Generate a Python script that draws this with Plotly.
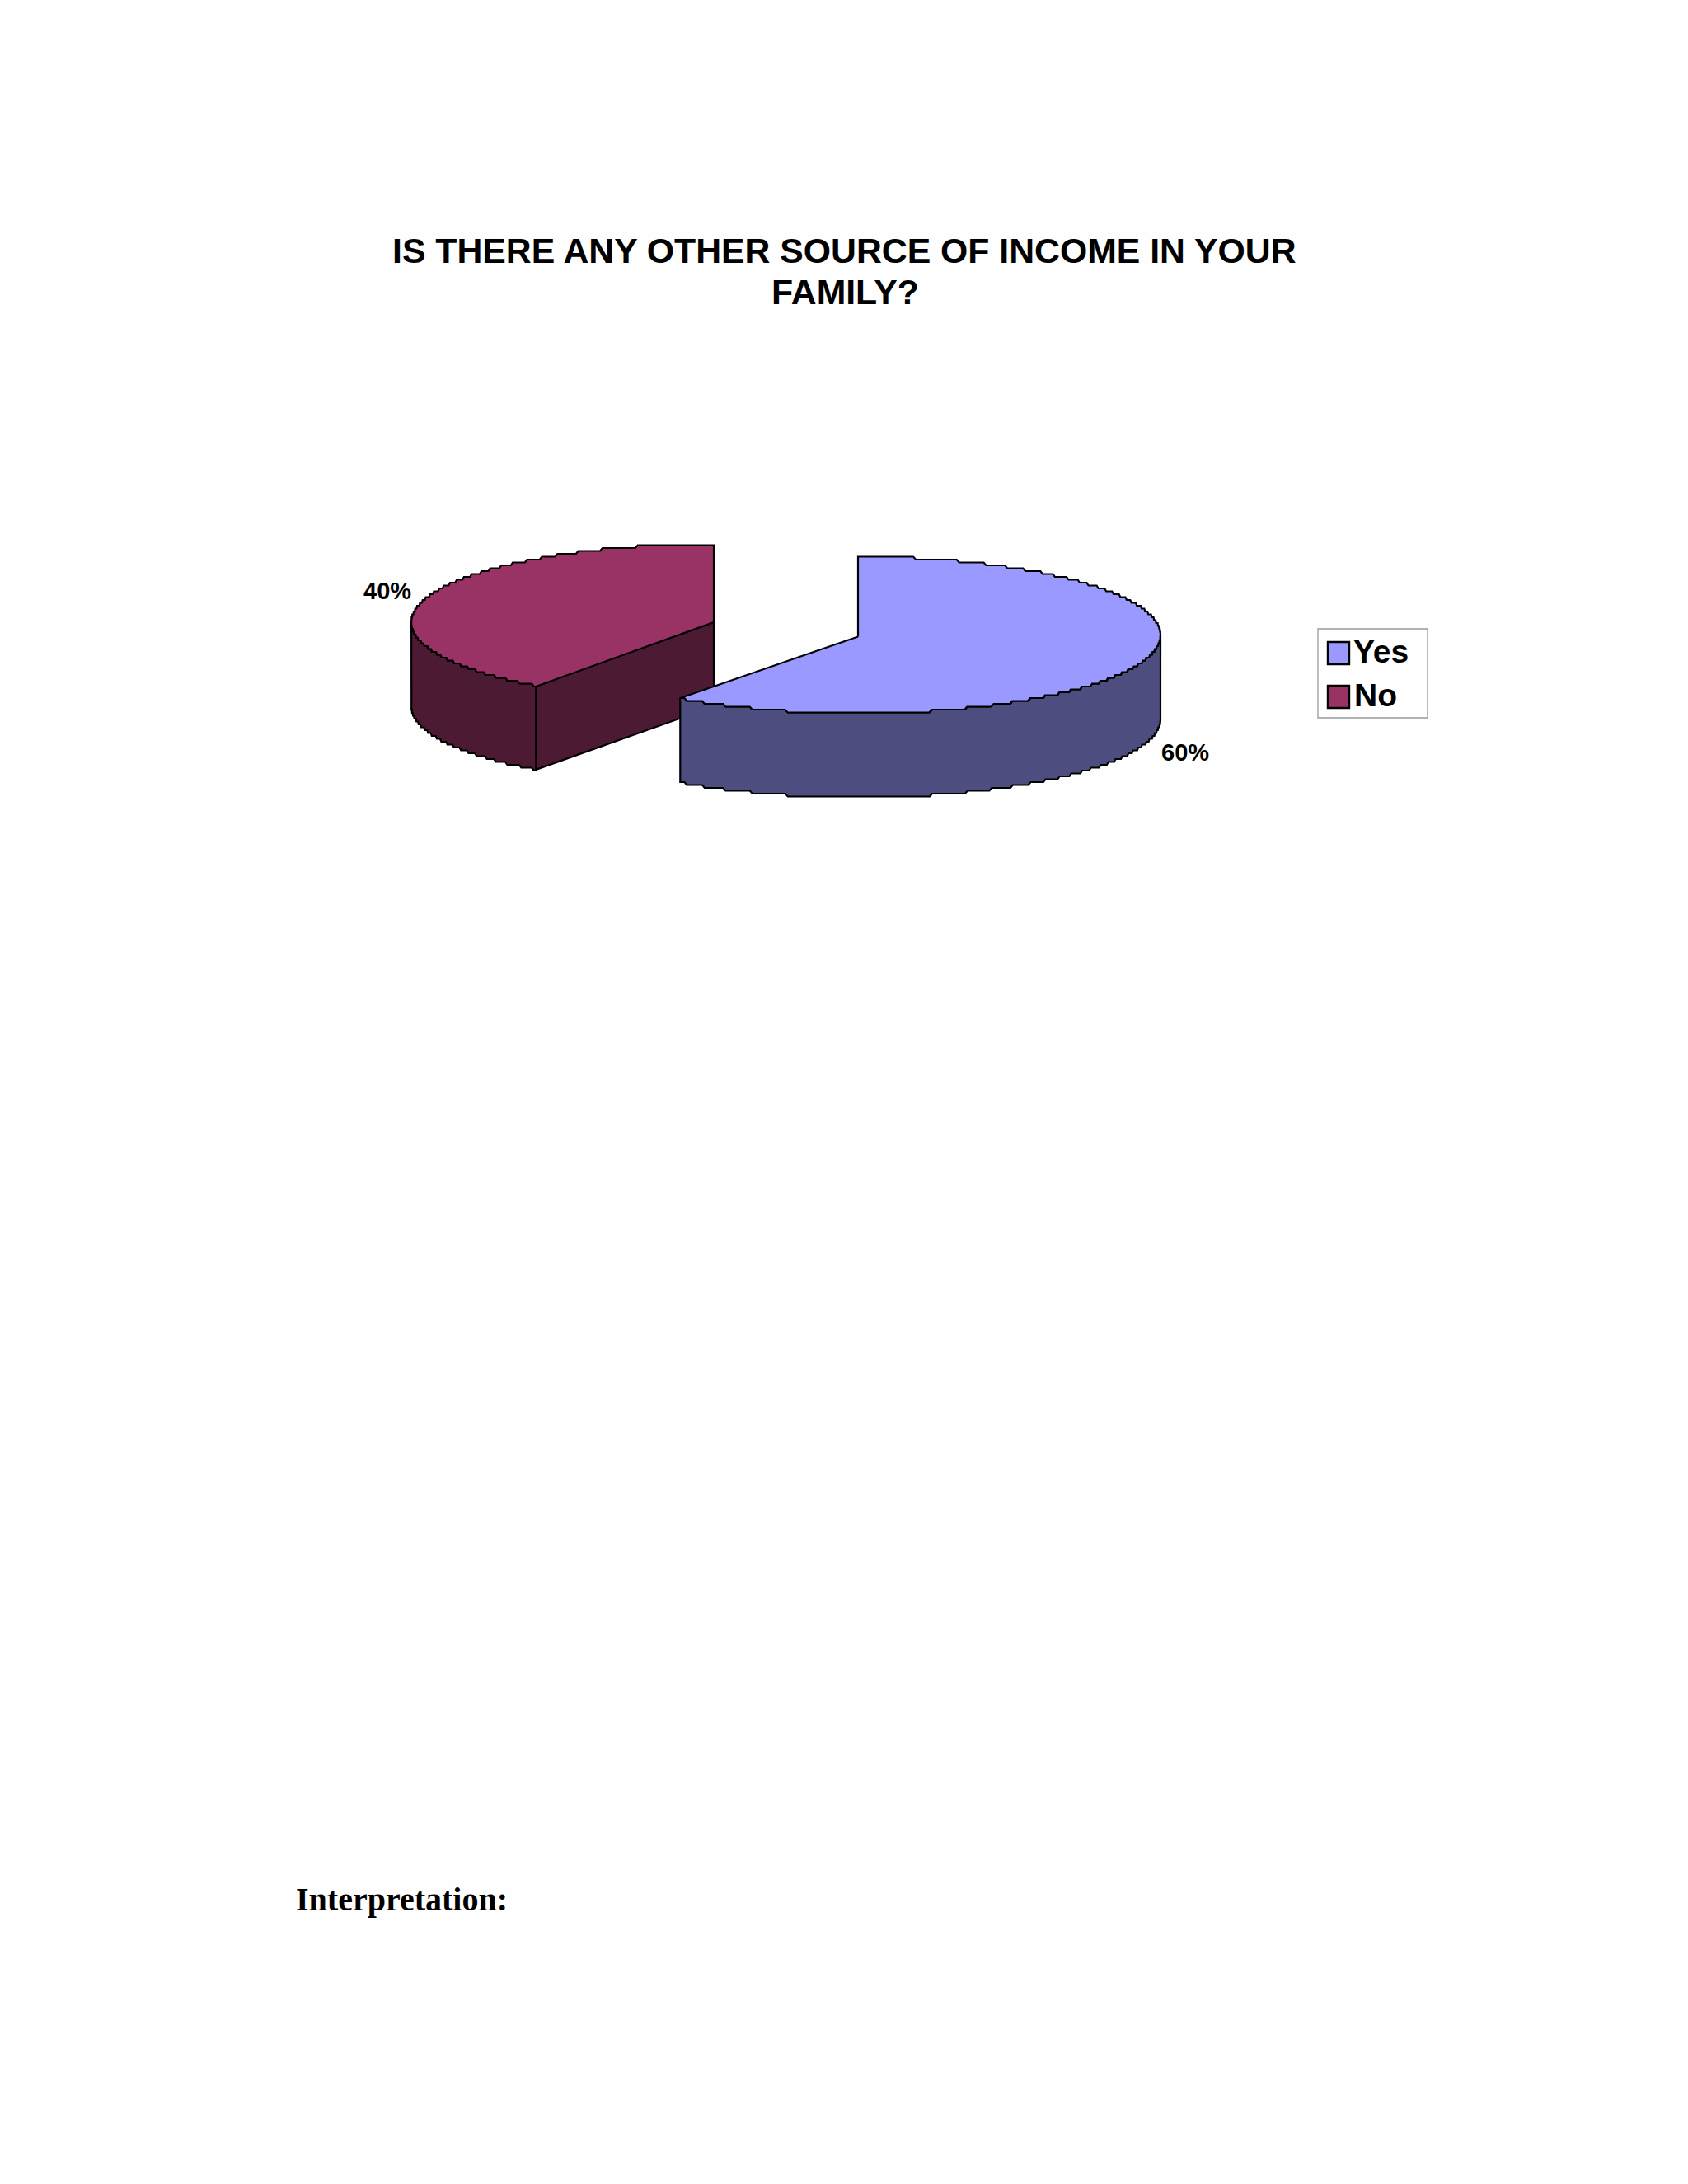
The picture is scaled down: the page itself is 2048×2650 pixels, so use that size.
import numpy as np
import plotly.graph_objects as go

# --- data ---
categories = ["Yes", "No"]
shares = [60, 40]
pct_labels = ["60%", "40%"]
title_lines = ["IS THERE ANY OTHER SOURCE OF INCOME IN YOUR", "FAMILY?"]
footer_text = "Interpretation:"

# --- styling / geometry ---
top_colors = ["#9999FF", "#993366"]
side_colors = ["#4D4D80", "#4D1A33"]
centers = [(1041, 770.5), (866, 755)]   # exploded pie centres, page pixels
RX, RY, DEPTH = 367, 95, 102
STEP = 3.5                              # the stair-stepped outline of the original
LW = 2.2


def arc(cx, cy, a0, a1, dy=0):
    """Clock-angle arc (degrees from north, clockwise) on the squashed pie."""
    n = max(int(abs(a1 - a0) * 2), 2)
    t = np.radians(np.linspace(a0, a1, n))
    x = cx + RX * np.sin(t)
    y = cy - RY * np.cos(t)
    y = np.round(y / STEP) * STEP
    return x, y + dy


def poly(x, y, fill, name):
    return go.Scatter(
        x=list(x) + [x[0]], y=list(y) + [y[0]], mode="lines", fill="toself",
        fillcolor=fill, line=dict(color="#000000", width=LW, shape="linear"),
        hoverinfo="name", name=name, showlegend=False,
    )


fig = go.Figure()
starts = np.cumsum([0] + shares[:-1]) * 3.6
ends = np.cumsum(shares) * 3.6

for i in [1, 0]:                       # back slice first so the front slice overlaps it
    a0, a1 = starts[i], ends[i]
    cx, cy = centers[i]
    # radial cut face that turns towards the viewer
    if a0 > 90 and a0 < 270:
        tx, ty = cx + RX * np.sin(np.radians(a0)), cy - RY * np.cos(np.radians(a0))
        fig.add_trace(poly([cx, tx, tx, cx], [cy, ty, ty + DEPTH, cy + DEPTH], side_colors[i], categories[i]))
    # outer wall (front half of the rim only)
    w0, w1 = max(a0, 90), min(a1, 270)
    if w1 > w0:
        xt, yt = arc(cx, cy, w0, w1)
        xb, yb = arc(cx, cy, w1, w0, DEPTH)
        fig.add_trace(poly(np.r_[xt, xb], np.r_[yt, yb], side_colors[i], categories[i]))
    # top face
    xa, ya = arc(cx, cy, a0, a1)
    fig.add_trace(poly(np.r_[cx, xa], np.r_[cy + 2 if i == 0 else cy, ya], top_colors[i], categories[i]))

TXT = "Liberation Sans"
annotations = [
    dict(x=1024, y=304, text=f"<b>{title_lines[0]}</b>", font=dict(family=TXT, size=42.75, color="#000"), xanchor="center", yanchor="middle"),
    dict(x=1025, y=354, text=f"<b>{title_lines[1]}</b>", font=dict(family=TXT, size=42.75, color="#000"), xanchor="center", yanchor="middle"),
    dict(x=1438, y=913, text=f"<b>{pct_labels[0]}</b>", font=dict(family=TXT, size=29, color="#000"), xanchor="center", yanchor="middle"),
    dict(x=470, y=717, text=f"<b>{pct_labels[1]}</b>", font=dict(family=TXT, size=29, color="#000"), xanchor="center", yanchor="middle"),
    dict(x=358, y=2304, text=f"<b>{footer_text}</b>", font=dict(family="Liberation Serif", size=40, color="#000"), xanchor="left", yanchor="middle"),
    dict(x=1641, y=790, text=f"<b>{categories[0]}</b>", font=dict(family=TXT, size=39, color="#000"), xanchor="left", yanchor="middle"),
    dict(x=1642, y=843, text=f"<b>{categories[1]}</b>", font=dict(family=TXT, size=39, color="#000"), xanchor="left", yanchor="middle"),
]
for a in annotations:
    a.update(showarrow=False, xref="x", yref="y", borderpad=0)

shapes = [
    dict(type="rect", x0=1599, x1=1732, y0=763, y1=871, line=dict(color="#999999", width=1.3), fillcolor="#FFFFFF", layer="below"),
    dict(type="rect", x0=1611, x1=1637, y0=779, y1=806, line=dict(color="#000000", width=2.4), fillcolor=top_colors[0]),
    dict(type="rect", x0=1611, x1=1637, y0=832, y1=859, line=dict(color="#000000", width=2.4), fillcolor=top_colors[1]),
]

fig.update_layout(
    width=2048, height=2650, margin=dict(l=0, r=0, t=0, b=0),
    paper_bgcolor="#FEFEFE", plot_bgcolor="#FEFEFE", showlegend=False,
    xaxis=dict(range=[0, 2048], visible=False, fixedrange=True),
    yaxis=dict(range=[2650, 0], visible=False, fixedrange=True),
    annotations=annotations, shapes=shapes,
)
fig.write_html("out.html", config=dict(displayModeBar=False),
               post_script="document.body.style.margin='0';document.documentElement.style.overflow='hidden';")
